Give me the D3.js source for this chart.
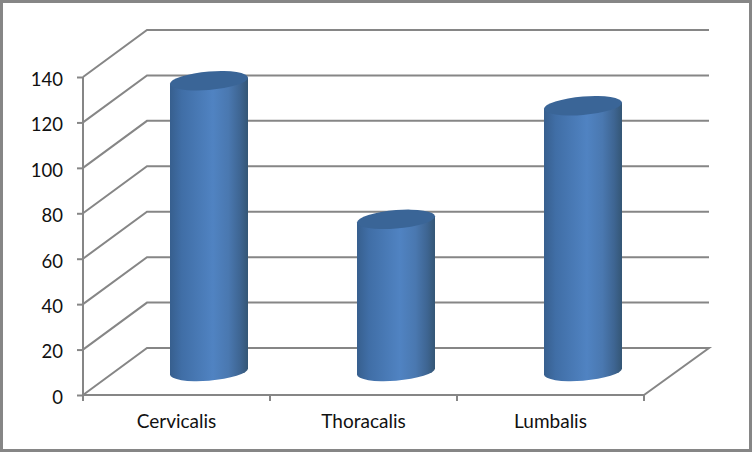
<!DOCTYPE html>
<html><head><meta charset="utf-8">
<script src="https://cdn.jsdelivr.net/npm/d3@7"></script>
<style>
html,body{margin:0;padding:0;background:#fff}
svg{display:block}
text{font-family:Lato,"Noto Sans",sans-serif;fill:#111}
</style></head><body>
<svg id="c" width="752" height="452"></svg>
<script>
const categories = ["Cervicalis","Thoracalis","Lumbalis"];
const values = [128,67,117];
const yTicks = [0,20,40,60,80,100,120,140];

const W=752,H=452,plotL=83,plotR=644,plotT=77,plotB=395,dx=64,dy=47;
const lineCol="#868686";
const svg=d3.select("#c");
svg.append("rect").attr("x",1.5).attr("y",1.5).attr("width",W-3).attr("height",H-3)
  .attr("fill","#fff").attr("stroke",lineCol).attr("stroke-width",3);

const y=d3.scaleLinear().domain([0,140]).range([plotB,plotT]);
const x=d3.scaleBand().domain(categories).range([plotL,plotR]);

const defs=svg.append("defs");
const g=defs.append("linearGradient").attr("id","body").attr("x1","0").attr("x2","1").attr("y1","0").attr("y2","0");
[[0,"#375f8e"],[0.15,"#406ea6"],[0.55,"#5083c2"],[0.75,"#4a78b0"],[0.9,"#3e6592"],[1,"#345675"]]
 .forEach(d=>g.append("stop").attr("offset",d[0]).attr("stop-color",d[1]));

// grid
const grid=svg.append("g").attr("fill","none").attr("stroke",lineCol).attr("stroke-width",2);
grid.selectAll("path").data(yTicks).join("path")
  .attr("d",d=>{
    const p=d3.path();
    p.moveTo(plotL,y(d));p.lineTo(plotL+dx,y(d)-dy);p.lineTo(plotR+dx+1,y(d)-dy);
    if(d===0){p.lineTo(plotR,y(d));}
    return p.toString();
  });

// axes
const ax=svg.append("g").attr("transform",`translate(${plotL},0)`)
  .call(d3.axisLeft(y).tickValues(yTicks).tickSize(6).tickPadding(14));
ax.selectAll("path").attr("stroke",lineCol).attr("stroke-width",2).attr("d",`M0,${plotT}V${plotB}`);
ax.selectAll("line").attr("stroke",lineCol).attr("stroke-width",2);
ax.selectAll("text").attr("font-size",18.5).attr("dy","0.45em").style("fill","#111");

const bx=svg.append("g").attr("transform",`translate(0,${plotB})`)
  .call(d3.axisBottom(x).tickSize(0).tickPadding(20));
bx.selectAll("path").attr("stroke",lineCol).attr("stroke-width",2).attr("d",`M${plotL},0H${plotR+1}`);
bx.selectAll("text").attr("font-size",19).style("fill","#111");
svg.append("g").attr("stroke",lineCol).attr("stroke-width",2)
  .selectAll("line").data(d3.range(categories.length+1)).join("line")
  .attr("x1",i=>plotL+i*x.step()).attr("x2",i=>plotL+i*x.step())
  .attr("y1",plotB).attr("y2",plotB+6);

// cylinders: sheared so the sides stay vertical and meet the ends tangentially
const bw=78, rx=bw/2, ry=9.2, skew=-4.5;
const bars=svg.append("g").selectAll("g").data(categories.map((c,i)=>({c,v:values[i]}))).join("g")
  .attr("transform",d=>`translate(${x(d.c)+x.bandwidth()/2+dx/2+0.5},${-dy/2}) skewY(${skew})`);
bars.append("path").attr("fill","url(#body)").attr("d",d=>{
  const b=y(0),t=y(d.v);
  return `M${-rx},${t}V${b}A${rx},${ry} 0 0 0 ${rx},${b}V${t}Z`;
});
bars.append("ellipse").attr("rx",rx).attr("ry",ry).attr("cy",d=>y(d.v)).attr("fill","#3a6597");
</script></body></html>
